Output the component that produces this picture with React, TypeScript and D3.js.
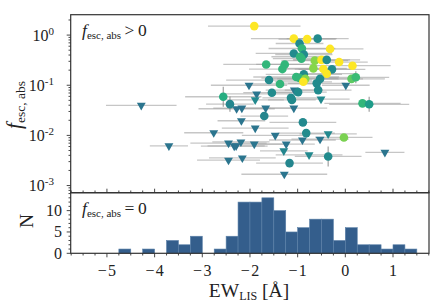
import { useEffect, useRef } from 'react';
import * as d3 from 'd3';

// detections: f_esc,abs > 0
const detEW = [
  -1.91, -1.08, -0.8, -0.58, -0.96, -0.91, -0.32, -1.08, -0.87, -0.95, -0.92, -0.64, -0.5,
  -0.39, -0.13, 0.15, -1.66, -1.27, -1.32, -0.67, -0.46, -0.28, -0.39, -0.87, -1.03, -0.96,
  -0.84, -0.53, -0.88, -1.6, -1.37, -0.6, 0.13, 0.22, -0.57, -1.54, -0.99, -2.56, -2.42,
  -1.14, -1.12, 0.36, 0.5, -1.7, -0.89, -0.82, -0.03, -0.36, -1.17,
];
const detF = [
  1.51, 0.85, 0.83, 0.85, 0.68, 0.54, 0.53, 0.43, 0.41, 0.37, 0.34, 0.31, 0.32, 0.32, 0.29,
  0.245, 0.26, 0.26, 0.21, 0.217, 0.21, 0.207, 0.17, 0.165, 0.146, 0.139, 0.134, 0.134,
  0.117, 0.127, 0.106, 0.109, 0.134, 0.144, 0.08, 0.071, 0.073, 0.059, 0.042, 0.056, 0.051,
  0.0435, 0.0417, 0.0243, 0.0182, 0.0111, 0.0091, 0.0038, 0.0028,
];
const detXerr = [
  0.97, 0.9, 0.6, 0.65, 0.5, 0.7, 0.7, 0.8, 0.6, 0.6, 0.6, 0.7, 0.6, 0.7, 0.6, 0.8, 0.9,
  0.6, 0.7, 0.7, 0.6, 0.7, 0.6, 0.8, 0.9, 0.8, 0.7, 0.9, 0.6, 0.9, 0.7, 0.6, 0.7, 0.7, 0.7,
  0.6, 0.6, 0.8, 0.5, 0.6, 0.5, 0.8, 0.84, 0.5, 0.7, 0.6, 0.6, 0.7, 0.7,
];
// vertical error, in dex
const detYerr = [
  0, 0, 0, 0, 0, 0, 0, 0, 0, 0, 0, 0, 0, 0, 0, 0, 0, 0, 0, 0, 0, 0, 0, 0, 0, 0, 0, 0, 0,
  0, 0, 0, 0, 0.12, 0, 0, 0, 0.2, 0.15, 0, 0, 0, 0.15, 0.08, 0, 0.08, 0, 0.2, 0.08,
];
const detColor = [
  1, 1, 1, 0.48, 0.48, 0.66, 1, 0.48, 0.48, 0.66, 0.66, 0.82, 1, 0.48, 1, 1, 0.66, 0.66,
  0.66, 0.82, 1, 0.48, 1, 0.48, 0.66, 0.66, 0.82, 0.48, 1, 0.48, 0.66, 0.48, 0.75, 0.68,
  0.48, 0.48, 0.48, 0.62, 0.46, 0.48, 0.48, 0.66, 0.55, 0.46, 0.47, 0.48, 0.8, 0.48, 0.46,
];

// upper limits
const limEW = [
  -4.28, -2.02, 0.01, -1.86, -1.89, -1.07, -0.51, -2.28, -2.17, -1.67, -1.08, -2.18, -1.89,
  -2.76, -1.47, -0.36, -0.9, -0.53, -3.7, -2.45, -2.19, -2.33, -2.29, -1.91, -1.24, -1.29,
  -0.76, 0.83, -2.45, -2.16, -1.28,
];
const limF = [
  0.0398, 0.1, 0.1, 0.067, 0.051, 0.08, 0.053, 0.034, 0.035, 0.035, 0.035, 0.0196, 0.014,
  0.0113, 0.01, 0.0107, 0.0081, 0.0084, 0.0062, 0.007, 0.0074, 0.0061, 0.0062, 0.0067,
  0.0067, 0.0049, 0.0041, 0.0046, 0.0032, 0.00355, 0.00168,
];
const limXerr = [
  0.74, 0.8, 0.5, 0.7, 0.6, 0.6, 0.6, 0.8, 0.6, 0.6, 0.7, 0.5, 0.7, 0.62, 0.7, 0.6, 0.7,
  0.6, 0.4, 0.8, 0.6, 0.7, 0.6, 0.6, 0.6, 0.5, 0.7, 0.41, 0.66, 0.7, 0.9,
];
const limColor = [
  0.39, 0.39, 0.39, 0.39, 0.47, 0.39, 0.47, 0.38, 0.38, 0.39, 0.39, 0.39, 0.39, 0.39, 0.39,
  0.47, 0.39, 0.39, 0.39, 0.39, 0.39, 0.38, 0.38, 0.39, 0.39, 0.46, 0.47, 0.39, 0.39, 0.39,
  0.39,
];

// f_esc,abs = 0 histogram
const binEdges = [
  -4.75, -4.5, -4.25, -4, -3.75, -3.5, -3.25, -3, -2.75, -2.5, -2.25, -2, -1.75, -1.5, -1.25,
  -1, -0.75, -0.5, -0.25, 0, 0.25, 0.5, 0.75, 1, 1.25, 1.5,
];
const binCounts = [1, 0, 1, 0, 3, 2, 4, 0, 1, 4, 12, 12, 13, 10, 5, 6, 8, 8, 3, 6, 2, 2, 1, 2, 1];

const xTicks = [-5, -4, -3, -2, -1, 0, 1];
const xTickLabels = ['\u2212\u200a5', '\u2212\u200a4', '\u2212\u200a3', '\u2212\u200a2', '\u2212\u200a1', '0', '1'];
const yDecades = [1e-3, 1e-2, 1e-1, 1];
const yExpLabels = ['-3', '-2', '-1', '0'];
const nTicks = [0, 5, 10];

export default function App() {
  const svgRef = useRef<SVGSVGElement>(null);

  useEffect(() => {
    const left = 70.7;
    const right = 429;
    const top = 14.7;
    const mid = 192.7;
    const bottom = 253.3;
    const font = "'Liberation Serif', 'Times New Roman', serif";
    const axisColor = '#333';

    const x = d3.scaleLinear().domain([-5.76, 1.755]).range([left, right]);
    const y = d3.scaleLog().domain([7.2e-4, 2.55]).range([mid, top]);
    const yh = d3.scaleLinear().domain([0, 14.2]).range([bottom, mid]);

    const svg = d3.select(svgRef.current);
    svg.selectAll('*').remove();

    // histogram
    const bins = binCounts.map((c, i) => ({ x0: binEdges[i], x1: binEdges[i + 1], c }));
    svg
      .append('g')
      .selectAll('rect')
      .data(bins.filter(b => b.c > 0))
      .enter()
      .append('rect')
      .attr('x', d => x(d.x0))
      .attr('y', d => yh(d.c))
      .attr('width', d => x(d.x1) - x(d.x0))
      .attr('height', d => yh(0) - yh(d.c))
      .attr('fill', '#345e8c')
      .attr('stroke', '#5b80a8')
      .attr('stroke-width', 0.6);

    // scatter
    const dets = detEW.map((ew, i) => ({
      ew,
      f: detF[i],
      xe: detXerr[i],
      ye: detYerr[i],
      c: detColor[i],
    }));
    const lims = limEW.map((ew, i) => ({ ew, f: limF[i], xe: limXerr[i], c: limColor[i] }));

    const err = svg.append('g');
    err
      .selectAll('line.lh')
      .data(lims)
      .enter()
      .append('line')
      .attr('x1', d => x(Math.max(d.ew - d.xe, -5.76)))
      .attr('x2', d => x(Math.min(d.ew + d.xe, 1.755)))
      .attr('y1', d => y(d.f))
      .attr('y2', d => y(d.f))
      .attr('stroke', '#a0a0a0')
      .attr('stroke-opacity', 0.6)
      .attr('stroke-width', 1.3);
    err
      .selectAll('line.dh')
      .data(dets)
      .enter()
      .append('line')
      .attr('x1', d => x(Math.max(d.ew - d.xe, -5.76)))
      .attr('x2', d => x(Math.min(d.ew + d.xe, 1.755)))
      .attr('y1', d => y(d.f))
      .attr('y2', d => y(d.f))
      .attr('stroke', '#a0a0a0')
      .attr('stroke-opacity', 0.6)
      .attr('stroke-width', 1.3);
    err
      .selectAll('line.dv')
      .data(dets.filter(d => d.ye > 0))
      .enter()
      .append('line')
      .attr('x1', d => x(d.ew))
      .attr('x2', d => x(d.ew))
      .attr('y1', d => y(d.f * Math.pow(10, d.ye)))
      .attr('y2', d => y(d.f / Math.pow(10, d.ye)))
      .attr('stroke', '#888')
      .attr('stroke-opacity', 0.8)
      .attr('stroke-width', 1.2);

    const tri = d3.symbol().type(d3.symbolTriangle).size(34);
    svg
      .append('g')
      .selectAll('path')
      .data(lims)
      .enter()
      .append('path')
      .attr('d', tri)
      .attr('transform', d => `translate(${x(d.ew)},${y(d.f)}) rotate(180)`)
      .attr('fill', d => d3.interpolateViridis(d.c));

    svg
      .append('g')
      .selectAll('circle')
      .data(dets)
      .enter()
      .append('circle')
      .attr('cx', d => x(d.ew))
      .attr('cy', d => y(d.f))
      .attr('r', 4.3)
      .attr('fill', d => d3.interpolateViridis(d.c));

    // frames
    svg
      .append('rect')
      .attr('x', left)
      .attr('y', top)
      .attr('width', right - left)
      .attr('height', mid - top)
      .attr('fill', 'none')
      .attr('stroke', axisColor)
      .attr('stroke-width', 1.2);
    svg
      .append('rect')
      .attr('x', left)
      .attr('y', mid)
      .attr('width', right - left)
      .attr('height', bottom - mid)
      .attr('fill', 'none')
      .attr('stroke', axisColor)
      .attr('stroke-width', 1.2);

    const ticks = svg.append('g').attr('stroke', axisColor).attr('stroke-width', 0.9);

    // x ticks (minor every 0.25)
    const xMinor = d3.range(-23, 8).map(k => k * 0.25);
    xMinor.forEach(v => {
      const major = Number.isInteger(v);
      const len = major ? 4 : 2.2;
      ticks.append('line').attr('x1', x(v)).attr('x2', x(v)).attr('y1', bottom).attr('y2', bottom + len);
      ticks.append('line').attr('x1', x(v)).attr('x2', x(v)).attr('y1', mid).attr('y2', mid - len);
    });

    // log y ticks
    yDecades.forEach(v => {
      ticks.append('line').attr('x1', left).attr('x2', left - 4).attr('y1', y(v)).attr('y2', y(v));
    });
    [1e-4, 1e-3, 1e-2, 1e-1, 1].forEach(dec => {
      d3.range(2, 10).forEach(k => {
        const v = dec * k;
        if (v < 7.2e-4 || v > 2.55) return;
        ticks.append('line').attr('x1', left).attr('x2', left - 2.2).attr('y1', y(v)).attr('y2', y(v));
      });
    });

    // histogram y ticks
    d3.range(0, 15).forEach(v => {
      const len = nTicks.includes(v) ? 4 : 2.2;
      ticks.append('line').attr('x1', left).attr('x2', left - len).attr('y1', yh(v)).attr('y2', yh(v));
    });

    const txt = svg.append('g').attr('font-family', font).attr('fill', '#222');

    xTicks.forEach((v, i) => {
      txt
        .append('text')
        .attr('x', x(v))
        .attr('y', 275.5)
        .attr('text-anchor', 'middle')
        .attr('font-size', 16)
        .text(xTickLabels[i]);
    });

    yDecades.forEach((v, i) => {
      const t = txt
        .append('text')
        .attr('x', 54)
        .attr('y', y(v) + 5.5)
        .attr('text-anchor', 'end')
        .attr('font-size', 16);
      t.append('tspan').text('10');
      t.append('tspan').attr('font-size', 11).attr('dy', -6).text(yExpLabels[i]);
    });

    nTicks.forEach(v => {
      txt
        .append('text')
        .attr('x', 62)
        .attr('y', yh(v) + 5.3)
        .attr('text-anchor', 'end')
        .attr('font-size', 16)
        .text(String(v));
    });

    // axis labels
    const xl = txt
      .append('text')
      .attr('x', 249)
      .attr('y', 297)
      .attr('text-anchor', 'middle')
      .attr('font-size', 19.5);
    xl.append('tspan').text('EW');
    xl.append('tspan').attr('font-size', 12).attr('dy', 3).text('LIS');
    xl.append('tspan').attr('dy', -3).text(' [Å]');

    const yl = txt
      .append('text')
      .attr('transform', 'translate(21,105) rotate(-90)')
      .attr('text-anchor', 'middle')
      .attr('font-size', 21);
    yl.append('tspan').attr('font-style', 'italic').text('f');
    yl.append('tspan').attr('font-size', 13.5).attr('dy', 3.5).text('esc, abs');

    txt
      .append('text')
      .attr('transform', 'translate(33,221) rotate(-90)')
      .attr('text-anchor', 'middle')
      .attr('font-size', 19.5)
      .text('N');

    // panel annotations
    const ann = (yy: number, rel: string) => {
      const t = txt.append('text').attr('x', 82).attr('y', yy).attr('font-size', 17.5);
      t.append('tspan').attr('font-style', 'italic').text('f');
      t.append('tspan').attr('font-size', 11).attr('dy', 3).text('esc, abs');
      t.append('tspan').attr('dy', -3).text(rel);
    };
    ann(36, '\u2009>\u20090');
    ann(214, '\u2009=\u20090');
  }, []);

  return (
    <div style={{ position: 'absolute', left: 0, top: 0 }}>
      <svg ref={svgRef} width={443} height={305} style={{ display: 'block' }}></svg>
    </div>
  );
}
